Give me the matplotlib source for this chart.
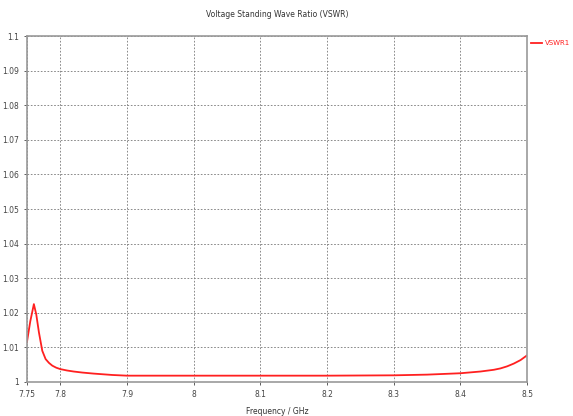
import matplotlib
matplotlib.use("Agg")
from matplotlib import pyplot as plt

# values
freq = [7.75, 7.755, 7.7604, 7.764, 7.768, 7.773, 7.778, 7.783, 7.788, 7.794, 7.8, 7.81,
        7.82, 7.833, 7.85, 7.878, 7.9, 8.0, 8.1, 8.2, 8.3, 8.35, 8.4, 8.43, 8.45,
        8.46, 8.47, 8.48, 8.49, 8.495, 8.5]
vswr = [1.0115, 1.0175, 1.0225, 1.0195, 1.0143, 1.009, 1.0066, 1.0055, 1.0047, 1.0041, 1.0037, 1.0033,
        1.003, 1.0027, 1.0024, 1.002, 1.0018, 1.0018, 1.0018, 1.0018, 1.0019, 1.0021, 1.0025, 1.003, 1.0035,
        1.0039, 1.0045, 1.0053, 1.0063, 1.007, 1.0077]
xticks = [7.75, 7.8, 7.9, 8, 8.1, 8.2, 8.3, 8.4, 8.5]
xlabels = ["7.75", "7.8", "7.9", "8", "8.1", "8.2", "8.3", "8.4", "8.5"]
yticks = [1, 1.01, 1.02, 1.03, 1.04, 1.05, 1.06, 1.07, 1.08, 1.09, 1.1]
ylabels = ["1", "1.01", "1.02", "1.03", "1.04", "1.05", "1.06", "1.07", "1.08", "1.09", "1.1"]

plt.rcParams['font.family'] = ['DejaVu Sans']
fig = plt.figure(figsize=(5.73, 4.16), dpi=100)
ax = fig.add_axes([0.047, 0.082, 0.873, 0.831])

ax.plot(freq, vswr, color="#ff2020", lw=1.3, label="VSWR1")
ax.set_xlim(7.75, 8.5)
ax.set_ylim(1, 1.1)
ax.set_xticks(xticks)
ax.set_xticklabels(xlabels)
ax.set_yticks(yticks)
ax.set_yticklabels(ylabels)
ax.tick_params(labelsize=5.5, colors="#444444", length=2, width=0.6)
ax.grid(True, color="#777777", ls=(0, (2, 2)), lw=0.6)
for s in ax.spines.values():
    s.set_color("#999999")
    s.set_linewidth(1.2)

ax.set_title("Voltage Standing Wave Ratio (VSWR)", fontsize=5.5, color="#333333", pad=14)
ax.set_xlabel("Frequency / GHz", fontsize=5.5, color="#333333", labelpad=6)

leg = ax.legend(loc="upper left", bbox_to_anchor=(1.0, 1.0), frameon=False,
                fontsize=5, handlelength=1.6, handletextpad=0.3, borderpad=0.3,
                borderaxespad=0.3)
for t in leg.get_texts():
    t.set_color("#ff2020")

fig.savefig("out.png", dpi=100)
